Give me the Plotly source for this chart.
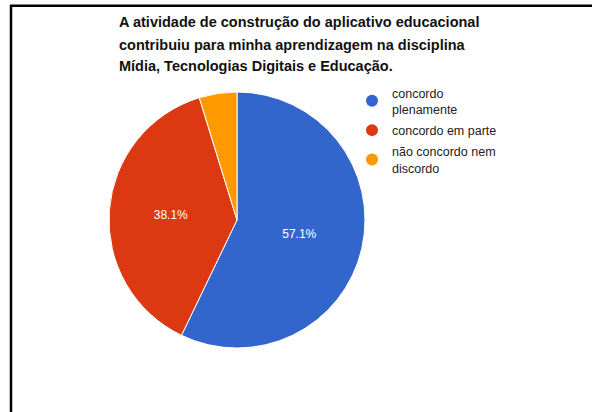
import plotly.graph_objects as go

W, H = 592, 412

labels = ["concordo plenamente", "concordo em parte", "não concordo nem discordo"]
legend_labels = ["concordo<br>plenamente", "concordo em parte", "não concordo nem<br>discordo"]
values = [12, 8, 1]
slice_text = ["57.1%", "38.1%", ""]
colors = ["#3366CC", "#DC3912", "#FF9900"]
title_lines = [
    "A atividade de construção do aplicativo educacional",
    "contribuiu para minha aprendizagem na disciplina",
    "Mídia, Tecnologias Digitais e Educação.",
]

FONT = "Liberation Sans, Arial, sans-serif"

fig = go.Figure()

# pie centered at (237, 220) px
cx, cy, r = 237, 220, 128
fig.add_trace(go.Pie(
    labels=labels,
    values=values,
    text=slice_text,
    textinfo="text",
    textposition="inside",
    insidetextorientation="horizontal",
    textfont=dict(color="white", size=12, family=FONT),
    marker=dict(colors=colors, line=dict(color="white", width=1)),
    sort=False,
    direction="clockwise",
    rotation=0,
    showlegend=False,
    hoverinfo="label+percent",
    domain=dict(x=[(cx - r) / W, (cx + r) / W], y=[(H - cy - r) / H, (H - cy + r) / H]),
))

for i, (lab, col) in enumerate(zip(legend_labels, colors)):
    fig.add_trace(go.Scatter(
        x=[None], y=[None], mode="markers", name=lab,
        legendgroup=f"g{i}",
        marker=dict(color=col, size=12, symbol="circle"),
        showlegend=True,
    ))

title_y = [22, 44.5, 66]
annotations = []
for line, yy in zip(title_lines, title_y):
    annotations.append(dict(
        text="<b>" + line + "</b>",
        xref="paper", yref="paper",
        x=117 / W, y=(H - yy) / H, xanchor="left", yanchor="middle",
        align="left", showarrow=False,
        font=dict(size=14.5, color="#111111", family=FONT),
    ))

fig.update_layout(
    width=W, height=H,
    margin=dict(l=0, r=0, t=0, b=0),
    paper_bgcolor="white",
    plot_bgcolor="white",
    xaxis=dict(visible=False),
    yaxis=dict(visible=False),
    font=dict(family=FONT, color="#222222"),
    legend=dict(
        x=352 / W, y=(H - 78) / H, xanchor="left", yanchor="top",
        font=dict(size=12.5, color="#222222", family=FONT),
        itemsizing="constant",
        bgcolor="rgba(0,0,0,0)",
        tracegroupgap=2,
    ),
    annotations=annotations,
    shapes=[
        dict(type="line", xref="paper", yref="paper",
             x0=10 / W, x1=1, y0=(H - 5.8) / H, y1=(H - 5.8) / H,
             line=dict(color="black", width=2.5)),
        dict(type="line", xref="paper", yref="paper",
             x0=11 / W, x1=11 / W, y0=(H - 5) / H, y1=0,
             line=dict(color="black", width=2.5)),
    ],
)

fig.write_html("out.html")
